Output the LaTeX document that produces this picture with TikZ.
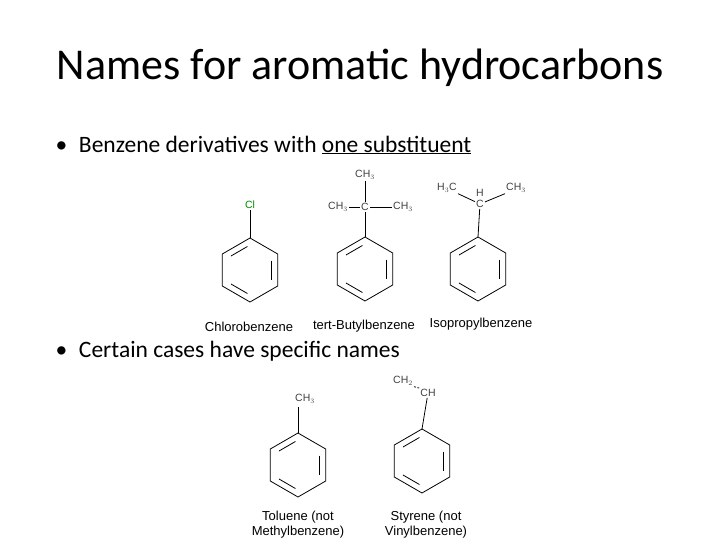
\documentclass[tikz,border=0pt]{standalone}
\usepackage{fontspec}
\setmainfont{Carlito}
\newfontfamily\arialf{Liberation Sans}
\usetikzlibrary{calc}
\newcommand{\benz}[3]{%
 \begin{scope}[shift={(#1,#2)}]
  \draw[bond] (0,-32) -- (-27.7,-16) -- (-27.7,16) -- (0,32) -- (27.7,16) -- (27.7,-16) -- cycle;
  \draw[bond] ($(0,-25)!0.12!(-21.6,-12.5)$) -- ($(0,-25)!0.88!(-21.6,-12.5)$);
  \draw[bond] ($(21.6,-12.5)!0.12!(21.6,12.5)$) -- ($(21.6,-12.5)!0.88!(21.6,12.5)$);
  \draw[bond] ($(0,25)!0.12!(-21.6,12.5)$) -- ($(0,25)!0.88!(-21.6,12.5)$);
  \coordinate (#3) at (0,-32);
 \end{scope}}
\begin{document}
\begin{tikzpicture}[x=1pt,y=-1pt,
  lab/.style={font=\arialf\fontsize{13}{15}\selectfont, inner sep=1pt},
  chem/.style={font=\arialf\fontsize{10.5}{12}\selectfont, text=black!75, inner sep=1pt},
  bond/.style={line width=0.8pt}]
\useasboundingbox (0,0) rectangle (720,540);
\node (title) at (360,68) {\fontsize{44}{48}\selectfont Names for aromatic hydrocarbons};
\node[anchor=west] (b1) at (52,145) {\fontsize{23.5}{28}\selectfont \textbullet\hspace{0.5em}Benzene derivatives with \underline{one substituent}};
\node[anchor=west] (b2) at (52,351) {\fontsize{23.5}{28}\selectfont \textbullet\hspace{0.5em}Certain cases have specific names};
% Chlorobenzene
\benz{250}{270}{r1}
\node[chem, text=green!55!black] (cl) at (250,205) {Cl};
\draw[bond] (r1) -- (cl);
\node[lab] (n1) at (249,327) {Chlorobenzene};
% tert-Butylbenzene
\benz{365}{269}{r2}
\node[chem] (c2) at (365,207) {C};
\node[chem] (c2t) at (365,175) {CH$_3$};
\node[chem] (c2l) at (338,207) {CH$_3$};
\node[chem] (c2r) at (403,207) {CH$_3$};
\draw[bond] (r2) -- (c2); \draw[bond] (c2) -- (c2t);
\draw[bond] (c2) -- (c2l); \draw[bond] (c2) -- (c2r);
\node[lab] (n2) at (364,326) {tert-Butylbenzene};
% Isopropylbenzene
\benz{478}{269}{r3}
\node[chem] (c3) at (480,204) {C};
\node[chem] (h3) at (480,193) {H};
\node[chem] (c3l) at (447,188) {H$_3$C};
\node[chem] (c3r) at (516,188) {CH$_3$};
\draw[bond] (r3) -- (c3); \draw[bond] (c3) -- (c3l.south east); \draw[bond] (c3) -- (c3r.south west);
\node[lab] (n3) at (481,324) {Isopropylbenzene};
% Toluene
\benz{298}{465}{r4}
\node[chem] (c4) at (305,399) {CH$_3$};
\draw[bond] (r4) -- (298,407);
\node[lab, align=center] (n4) at (298,525) {Toluene (not\\Methylbenzene)};
% Styrene
\benz{422}{461}{r5}
\node[chem] (c5) at (428,393) {CH};
\node[chem] (c5b) at (403,381) {CH$_2$};
\draw[bond] (r5) -- (c5);
\draw[line width=0.8pt, dashed, dash pattern=on 2pt off 1.5pt] (c5b.south east) -- (c5.north west);
\node[lab, align=center] (n5) at (426,525) {Styrene (not\\Vinylbenzene)};
\end{tikzpicture}
\end{document}
